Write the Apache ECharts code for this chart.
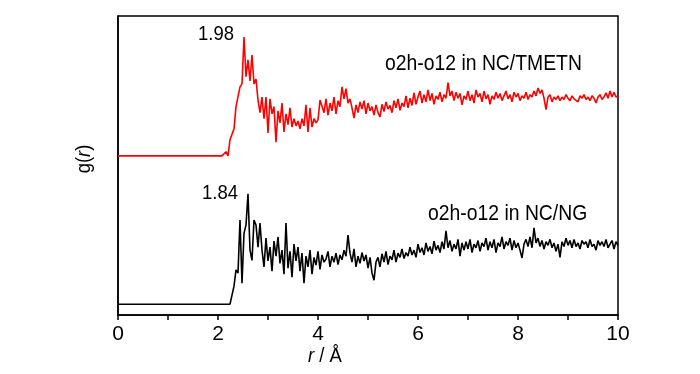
<!DOCTYPE html>
<html>
<head>
<meta charset="utf-8">
<script src="https://cdn.jsdelivr.net/npm/echarts@6/dist/echarts.min.js"></script>
<style>html,body{margin:0;padding:0;background:#fff}#c{width:700px;height:374px}</style>
</head>
<body>
<div id="c"></div>
<script>
// r grid of the sampled g(r) data (Å)
var rStart = 2.08;
var rStep = 0.04;
var xTicks = [0, 2, 4, 6, 8, 10];

// g(r) for o2h-o12 in NC/TMETN (from r = 2.08, step 0.04)
var gTMETN = [
  0.00, 0.00,
  0.07, 0.00, 0.27, 0.30, 0.45, 0.82, 0.80, 1.15, 1.20, 1.98,
  1.32, 1.60, 1.25, 1.68, 1.20, 1.28, 0.93, 0.72, 0.98, 0.62,
  0.98, 0.38, 0.95, 0.70, 0.82, 0.23, 0.75, 0.55, 0.88, 0.40,
  0.70, 0.52, 0.80, 0.48, 0.62, 0.50, 0.58, 0.45, 0.62, 0.50,
  0.85, 0.40, 0.80, 0.48, 0.62, 0.55, 0.60, 0.93, 0.90, 0.72,
  0.95, 0.68, 0.88, 0.75, 0.98, 0.70, 0.92, 0.82, 1.15, 0.95,
  1.12, 0.88, 0.95, 0.80, 0.63, 0.85, 0.72, 0.90, 0.78, 0.92,
  0.70, 0.88, 0.75, 0.82, 0.68, 0.85, 0.72, 0.65, 0.86, 0.74,
  0.90, 0.78, 0.84, 0.72, 0.92, 0.80, 0.95, 0.76, 0.88, 0.82,
  1.00, 0.80, 0.96, 0.84, 1.05, 0.86, 0.98, 1.08, 0.88, 1.02,
  0.90, 1.10, 0.92, 1.04, 0.86, 1.00, 0.94, 1.06, 0.90, 1.02,
  0.96, 1.22, 1.00, 1.08, 0.92, 1.06, 0.96, 1.04, 0.85, 1.00,
  0.94, 1.08, 0.92, 1.02, 0.88, 1.10, 0.98, 1.04, 0.90, 1.08,
  0.95, 1.02, 0.86, 1.00, 0.94, 1.06, 0.96, 1.04, 0.92, 1.00,
  1.08, 0.95, 1.02, 0.90, 1.06, 0.98, 1.04, 0.92, 1.00, 0.96,
  1.06, 0.94, 1.02, 0.98, 1.08, 1.00, 1.13, 1.04, 1.10, 0.96,
  0.77, 0.98, 1.02, 0.90, 0.98, 0.94, 1.00, 0.92, 0.98, 0.94,
  1.02, 0.96, 0.92, 1.00, 0.95, 0.98, 0.90, 1.00, 0.96, 1.02,
  0.94, 0.98, 0.92, 1.00, 0.96, 0.88, 0.98, 1.02, 0.94, 0.98,
  1.05, 0.96, 1.08, 0.98, 1.06, 0.98, 1.00
];

// g(r) for o2h-o12 in NC/NG (from r = 2.08, step 0.04)
var gNG = [
  0.00, 0.00,
  0.00, 0.00, 0.00, 0.02, 0.30, 0.57, 0.52, 1.40, 0.35, 1.18,
  1.32, 1.84, 0.90, 0.73, 1.40, 1.32, 0.95, 1.35, 0.90, 0.62,
  1.10, 0.72, 0.95, 0.55, 1.05, 0.80, 1.12, 0.68, 0.90, 0.50,
  1.35, 0.60, 0.88, 0.45, 1.00, 0.72, 0.95, 0.55, 0.85, 0.35,
  0.80, 0.62, 0.90, 0.50, 0.78, 0.65, 0.88, 0.58, 0.82, 0.70,
  0.75, 0.88, 0.62, 0.80, 0.70, 0.85, 0.66, 0.82, 0.74, 0.90,
  0.80, 1.15, 0.85, 0.70, 0.92, 0.62, 0.80, 0.68, 0.86, 0.72,
  0.82, 0.60, 0.78, 0.52, 0.40, 0.70, 0.78, 0.62, 0.84, 0.70,
  0.88, 0.66, 0.80, 0.74, 0.90, 0.70, 0.85, 0.78, 0.92, 0.76,
  0.86, 0.80, 0.95, 0.82, 0.90, 0.78, 1.00, 0.86, 0.94, 0.82,
  1.02, 0.88, 0.96, 0.84, 1.05, 0.90, 0.98, 0.86, 1.04, 0.92,
  1.22, 0.94, 1.06, 0.88, 1.00, 0.92, 1.08, 0.80, 1.02, 0.90,
  1.04, 0.92, 1.08, 0.86, 1.00, 0.94, 1.06, 0.88, 1.02, 0.96,
  1.10, 0.90, 1.04, 0.94, 1.08, 0.86, 1.02, 0.96, 1.12, 0.92,
  1.04, 0.98, 1.10, 0.90, 1.06, 0.94, 1.02, 0.90, 0.77, 1.00,
  1.08, 0.96, 1.12, 0.94, 1.27, 1.02, 1.10, 0.96, 1.06, 0.92,
  1.04, 0.98, 1.08, 0.94, 1.02, 0.88, 1.00, 0.78, 1.04, 0.96,
  1.10, 0.98, 1.06, 0.94, 1.08, 0.96, 1.02, 0.92, 1.06, 1.00,
  1.04, 0.94, 1.08, 0.96, 1.00, 0.90, 1.06, 0.98, 1.04, 0.96,
  1.08, 0.94, 1.00, 1.06, 0.92, 1.04, 0.98
];

// vertical offset of the upper curve (stacked display)
var offsetTMETN = 2.47;
var offsetNG = 0;

var peakLabels = ['1.98', '1.84'];
var seriesLabels = ['o2h-o12 in NC/TMETN', 'o2h-o12 in NC/NG'];

function build(g, off) {
  var out = [[0, off]];
  for (var i = 0; i < g.length; i++) {
    out.push([+(rStart + i * rStep).toFixed(2), g[i] + off]);
  }
  return out;
}

var FONT = '"Liberation Sans",Arial,Helvetica,sans-serif';
var SX = 0.88;
var richI = {i: {fontStyle: 'italic', fontSize: 21, fontFamily: FONT, fill: '#000'}, n: {fontSize: 21, fontFamily: FONT, fill: '#000'}};

var chart = echarts.init(document.getElementById('c'), null, {renderer: 'canvas'});
chart.setOption({
  animation: false,
  backgroundColor: '#fff',
  grid: {left: 118, right: 82, top: 16, bottom: 59, show: true, borderColor: '#000', borderWidth: 1.5, backgroundColor: 'transparent'},
  xAxis: {
    type: 'value', min: 0, max: 10, interval: 2,
    axisLine: {show: true, onZero: false, lineStyle: {color: '#000', width: 1.5}},
    axisTick: {show: true, inside: false, length: 5, lineStyle: {color: '#000', width: 1.5}},
    minorTick: {show: true, splitNumber: 2, length: 5, lineStyle: {color: '#000', width: 1.5}},
    splitLine: {show: false},
    axisLabel: {color: '#000', fontSize: 21, fontFamily: FONT, margin: 9,
      formatter: function (v) { return xTicks.indexOf(v) >= 0 ? String(v) : ''; }}
  },
  yAxis: {
    type: 'value', min: -0.18, max: 4.8,
    axisLine: {show: true, lineStyle: {color: '#000', width: 1.5}},
    axisTick: {show: false}, axisLabel: {show: false}, splitLine: {show: false}
  },
  series: [
    {type: 'line', data: build(gTMETN, offsetTMETN), showSymbol: false, symbol: 'none',
      lineStyle: {color: '#ff0000', width: 1.6}, z: 3},
    {type: 'line', data: build(gNG, offsetNG), showSymbol: false, symbol: 'none',
      lineStyle: {color: '#000000', width: 1.6}, z: 3}
  ],
  graphic: [
    {type: 'text', x: 198, y: 24, scaleX: SX, style: {text: peakLabels[0], fill: '#000', font: '21px ' + FONT}},
    {type: 'text', x: 202, y: 183, scaleX: SX, style: {text: peakLabels[1], fill: '#000', font: '21px ' + FONT}},
    {type: 'text', x: 385, y: 53, scaleX: SX, style: {text: seriesLabels[0], fill: '#000', font: '22px ' + FONT}},
    {type: 'text', x: 428, y: 203, scaleX: SX, style: {text: seriesLabels[1], fill: '#000', font: '22px ' + FONT}},
    {type: 'text', x: 325, y: 356, scaleX: SX,
      style: {text: '{i|r}{n| / Å}', align: 'center', verticalAlign: 'middle', rich: richI}},
    {type: 'text', x: 84, y: 159, rotation: Math.PI / 2, scaleX: SX,
      style: {text: '{n|g(}{i|r}{n|)}', align: 'center', verticalAlign: 'middle', rich: richI}}
  ]
});
</script>
</body>
</html>
